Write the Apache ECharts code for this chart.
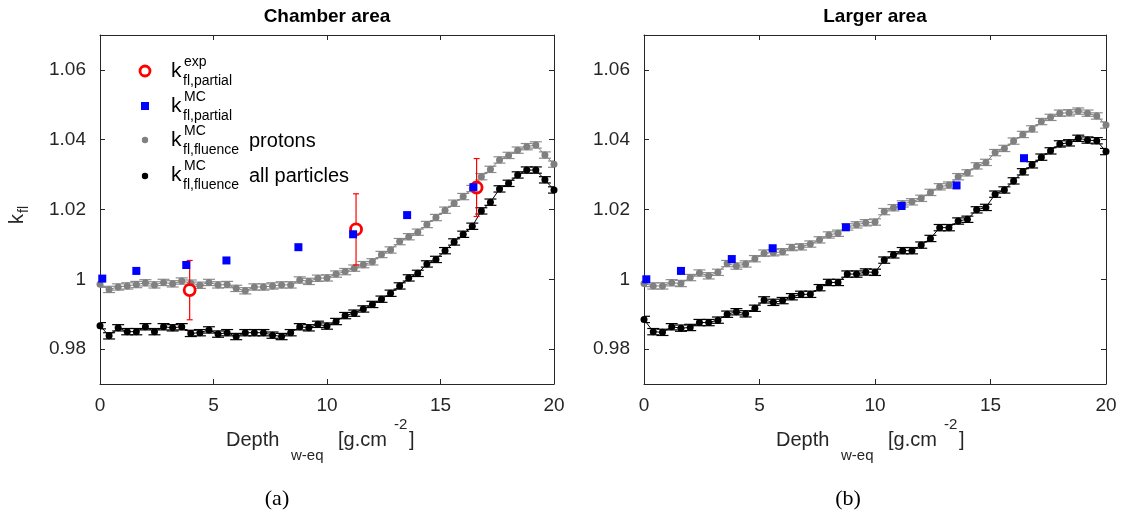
<!DOCTYPE html>
<html><head><meta charset="utf-8">
<script src="https://cdn.jsdelivr.net/npm/echarts@6/dist/echarts.min.js"></script>
<style>html,body{margin:0;padding:0;background:#fff}#c{width:1130px;height:521px}</style>
</head><body><div id="c"></div><script>
// ---------- data ----------
const depthMC = [0,0.4,0.8,1.2,1.6,2,2.4,2.8,3.2,3.6,4,4.4,4.8,5.2,5.6,6,6.4,6.8,7.2,7.6,8,8.4,8.8,9.2,9.6,10,10.4,10.8,11.2,11.6,12,12.4,12.8,13.2,13.6,14,14.4,14.8,15.2,15.6,16,16.4,16.8,17.2,17.6,18,18.4,18.8,19.2,19.6,20];
const chamberProtons = [0.9986,0.9971,0.9978,0.9981,0.9985,0.9990,0.9984,0.9991,0.9987,0.9995,0.9989,0.9983,0.9991,0.9984,0.9985,0.9974,0.9967,0.9978,0.9978,0.9981,0.9984,0.9984,0.9998,0.9994,1.0003,1.0004,1.0015,1.0022,1.0032,1.0042,1.0050,1.0071,1.0084,1.0108,1.0122,1.0135,1.0157,1.0177,1.0198,1.0218,1.0237,1.0260,1.0294,1.0315,1.0342,1.0355,1.0370,1.0380,1.0385,1.0356,1.0330];
const chamberAll = [0.9867,0.9838,0.9861,0.9850,0.9850,0.9864,0.9850,0.9864,0.9861,0.9864,0.9845,0.9847,0.9855,0.9843,0.9847,0.9836,0.9847,0.9847,0.9847,0.9840,0.9836,0.9847,0.9864,0.9861,0.9871,0.9866,0.9879,0.9896,0.9903,0.9915,0.9928,0.9943,0.9960,0.9981,1.0004,1.0017,1.0044,1.0057,1.0082,1.0107,1.0129,1.0152,1.0196,1.0221,1.0259,1.0275,1.0299,1.0313,1.0313,1.0285,1.0256];
const largerProtons = [0.9988,0.9981,0.9981,0.9990,0.9988,1.0005,1.0018,1.0010,1.0020,1.0045,1.0038,1.0044,1.0059,1.0075,1.0076,1.0079,1.0091,1.0093,1.0101,1.0113,1.0127,1.0132,1.0150,1.0156,1.0162,1.0164,1.0194,1.0205,1.0216,1.0222,1.0232,1.0249,1.0265,1.0270,1.0294,1.0305,1.0325,1.0335,1.0363,1.0375,1.0396,1.0415,1.0431,1.0452,1.0464,1.0476,1.0477,1.0482,1.0476,1.0468,1.0442];
const largerAll = [0.9885,0.9850,0.9848,0.9864,0.9860,0.9862,0.9876,0.9876,0.9883,0.9900,0.9907,0.9901,0.9917,0.9941,0.9934,0.9939,0.9950,0.9957,0.9957,0.9976,0.9991,0.9991,1.0015,1.0015,1.0021,1.0020,1.0055,1.0070,1.0082,1.0082,1.0098,1.0117,1.0148,1.0148,1.0167,1.0172,1.0199,1.0206,1.0244,1.0256,1.0282,1.0308,1.0328,1.0350,1.0368,1.0388,1.0391,1.0404,1.0399,1.0397,1.0366];
const mcErr = 0.0009;
const depthPartial = [0.1,1.6,3.8,5.57,8.74,11.15,13.53,16.45];
const chamberPartial = [1.0002,1.0024,1.0041,1.0054,1.0092,1.0129,1.0184,1.0264];
const largerPartial = [1.0000,1.0024,1.0058,1.0089,1.0149,1.0210,1.0269,1.0347];
const depthExp = [3.95,11.28,16.59];
const chamberExp = [0.9969,1.0143,1.0263];
const chamberExpErr = [0.0085,0.0102,0.0083];
const xTicks = [0,5,10,15,20];
const yTicks = [0.98,1.0,1.02,1.04,1.06];
const titles = ['Chamber area','Larger area'];
const panelTags = ['(a)','(b)'];

// ---------- chart ----------
const FONT = '"Liberation Sans", Arial, Helvetica, sans-serif';
const AX = '#262626';
const grids = [
  {left:100, top:35, width:454, height:349},
  {left:644, top:35, width:462, height:349}
];
function pair(xs, ys, es){ return xs.map((x,i)=>es===undefined?[x,ys[i]]:[x,ys[i],Array.isArray(es)?es[i]:es]); }
function errRender(capHalf, color, lw){
  return function(params, api){
    const x=api.value(0), y=api.value(1), e=api.value(2);
    const lo=api.coord([x,y-e]), hi=api.coord([x,y+e]);
    const style={stroke:color, lineWidth:lw};
    return {type:'group', children:[
      {type:'line', shape:{x1:lo[0],y1:lo[1],x2:hi[0],y2:hi[1]}, style},
      {type:'line', shape:{x1:lo[0]-capHalf,y1:lo[1],x2:lo[0]+capHalf,y2:lo[1]}, style},
      {type:'line', shape:{x1:hi[0]-capHalf,y1:hi[1],x2:hi[0]+capHalf,y2:hi[1]}, style}
    ]};
  };
}
const xAxes=[], yAxes=[];
grids.forEach((g,gi)=>{
  ['bottom','top'].forEach(pos=>{
    xAxes.push({type:'value', gridIndex:gi, position:pos, min:xTicks[0], max:xTicks[xTicks.length-1], interval:5,
      axisLine:{show:true, onZero:false, lineStyle:{color:AX, width:1}},
      axisTick:{show:true, inside:true, length:5, lineStyle:{color:AX}},
      axisLabel:{show:pos==='bottom', color:AX, fontSize:19, fontFamily:FONT, margin:12},
      splitLine:{show:false}});
  });
  ['left','right'].forEach(pos=>{
    yAxes.push({type:'value', gridIndex:gi, position:pos, min:0.97, max:1.07,
      axisLine:{show:true, onZero:false, lineStyle:{color:AX, width:1}},
      axisTick:{show:true, inside:true, length:5, lineStyle:{color:AX}, customValues:yTicks},
      axisLabel:{show:pos==='left', color:AX, fontSize:19, fontFamily:FONT, margin:14, customValues:yTicks,
        formatter:v=>Math.abs(v-1)<1e-9?'1':v.toFixed(2)},
      splitLine:{show:false}});
  });
});
const panels=[
  {protons:chamberProtons, all:chamberAll, partial:chamberPartial},
  {protons:largerProtons, all:largerAll, partial:largerPartial}
];
const series=[];
panels.forEach((p,gi)=>{
  const xi=gi*2, yi=gi*2;
  series.push({type:'custom', xAxisIndex:xi, yAxisIndex:yi, z:2, clip:true, renderItem:errRender(6,'#8c8c8c',1.2), data:pair(depthMC,p.protons,mcErr), encode:{x:0,y:1}, silent:true});
  series.push({type:'line', name:'protons', xAxisIndex:xi, yAxisIndex:yi, z:3, data:pair(depthMC,p.protons), symbol:'circle', symbolSize:7, showAllSymbol:true,
    itemStyle:{color:'#808080', opacity:1}, lineStyle:{color:'#808080', width:1}});
  series.push({type:'custom', xAxisIndex:xi, yAxisIndex:yi, z:4, clip:true, renderItem:errRender(6,'#000',1.2), data:pair(depthMC,p.all,mcErr), encode:{x:0,y:1}, silent:true});
  series.push({type:'line', name:'all particles', xAxisIndex:xi, yAxisIndex:yi, z:5, data:pair(depthMC,p.all), symbol:'circle', symbolSize:7, showAllSymbol:true,
    itemStyle:{color:'#000', opacity:1}, lineStyle:{color:'#000', width:1}});
  if(gi===0){
    series.push({type:'custom', xAxisIndex:xi, yAxisIndex:yi, z:6, renderItem:errRender(3,'#ff0000',1.2), data:pair(depthExp,chamberExp,chamberExpErr), encode:{x:0,y:1}, silent:true});
    series.push({type:'scatter', name:'exp', xAxisIndex:xi, yAxisIndex:yi, z:7, data:pair(depthExp,chamberExp), symbol:'circle', symbolSize:11,
      itemStyle:{color:'#fff', borderColor:'#ff0000', borderWidth:2.8, opacity:1}});
  }
  series.push({type:'scatter', name:'MC partial', xAxisIndex:xi, yAxisIndex:yi, z:8, data:pair(depthPartial,p.partial), symbol:'rect', symbolSize:8,
    itemStyle:{color:'#0000ff', opacity:1}});
});

const T = (x,y,text,size,opts={})=>({type:'text', x, y, z:100, style:Object.assign({text, font:(opts.bold?'bold ':'')+size+'px '+(opts.font||FONT), fill:opts.fill||'#000', align:opts.align||'left', verticalAlign:'middle'})});
const graphic=[];
graphic.push(T(327,17,titles[0],19,{bold:true,align:'center'}));
graphic.push(T(875,17,titles[1],19,{bold:true,align:'center'}));
graphic.push(T(277,499,panelTags[0],22,{font:'"Liberation Serif", "DejaVu Serif", serif',align:'center'}));
graphic.push(T(848,499,panelTags[1],22,{font:'"Liberation Serif", "DejaVu Serif", serif',align:'center'}));
[0,550].forEach(dx=>{
  graphic.push(T(226+dx,440,'Depth',20,{fill:AX}));
  graphic.push(T(291+dx,456,'w-eq',15,{fill:AX}));
  graphic.push(T(338+dx,440,'[g.cm',20,{fill:AX}));
  graphic.push(T(394+dx,425,'-2',15,{fill:AX}));
  graphic.push(T(409+dx,440,']',20,{fill:AX}));
});
graphic.push({type:'group', x:17, y:224, rotation:Math.PI/2, z:100, children:[
  {type:'text', x:0, y:0, style:{text:'k', font:'20px '+FONT, fill:AX, verticalAlign:'middle'}},
  {type:'text', x:11, y:7, style:{text:'fl', font:'14px '+FONT, fill:AX, verticalAlign:'middle'}}
]});
graphic.push({type:'circle', z:100, shape:{cx:145, cy:71, r:5}, style:{fill:'#fff', stroke:'#ff0000', lineWidth:2.8}});
graphic.push({type:'rect', z:100, shape:{x:141, y:102, width:8, height:8}, style:{fill:'#0000ff'}});
graphic.push({type:'circle', z:100, shape:{cx:145, cy:140, r:3.2}, style:{fill:'#808080'}});
graphic.push({type:'circle', z:100, shape:{cx:145, cy:176, r:3.2}, style:{fill:'#000'}});
const legRows=[[71,'exp','fl,partial',''],[106,'MC','fl,partial',''],[140,'MC','fl,fluence','protons'],[175,'MC','fl,fluence','all particles']];
legRows.forEach(r=>{
  graphic.push(T(171,r[0],'k',21));
  graphic.push(T(184,r[0]-9,r[1],14));
  graphic.push(T(183,r[0]+10,r[2],14));
  if(r[3]) graphic.push(T(249,r[0]+1,r[3],20));
});

const chart = echarts.init(document.getElementById('c'), null, {renderer:'canvas'});
chart.setOption({
  animation:false,
  backgroundColor:'#fff',
  grid:grids,
  xAxis:xAxes,
  yAxis:yAxes,
  series,
  graphic
});
</script></body></html>
